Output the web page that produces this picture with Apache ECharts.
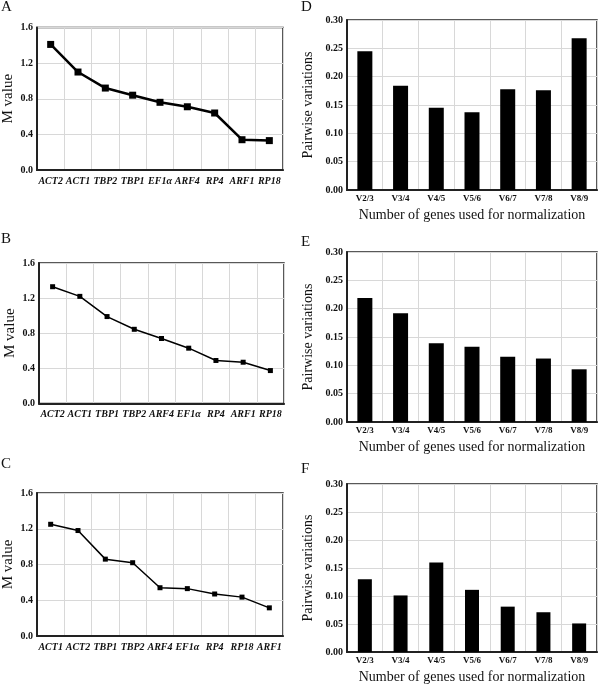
<!DOCTYPE html>
<html><head><meta charset="utf-8">
<script src="https://cdn.jsdelivr.net/npm/echarts@6/dist/echarts.min.js"></script>
<style>html,body{margin:0;padding:0;background:#fff}#c{width:600px;height:689px}</style>
</head><body><div id="c"></div>
<script>
// ---- Data ----
const catsA = ['ACT2','ACT1','TBP2','TBP1','EF1\u03b1','ARF4','RP4','ARF1','RP18'];
const valsA = [1.41, 1.10, 0.92, 0.84, 0.76, 0.71, 0.64, 0.34, 0.33];
const catsB = ['ACT2','ACT1','TBP1','TBP2','ARF4','EF1\u03b1','RP4','ARF1','RP18'];
const valsB = [1.33, 1.22, 0.99, 0.845, 0.74, 0.63, 0.49, 0.47, 0.375];
const catsC = ['ACT1','ACT2','TBP1','TBP2','ARF4','EF1\u03b1','RP4','RP18','ARF1'];
const valsC = [1.25, 1.18, 0.86, 0.82, 0.54, 0.53, 0.47, 0.435, 0.315];
const catsV = ['V2/3','V3/4','V4/5','V5/6','V6/7','V7/8','V8/9'];
const valsD = [0.245, 0.184, 0.145, 0.137, 0.178, 0.176, 0.268];
const valsE = [0.219, 0.192, 0.139, 0.133, 0.115, 0.112, 0.093];
const valsF = [0.130, 0.101, 0.160, 0.111, 0.081, 0.071, 0.051];
const mTicks = {min: 0, max: 1.6, interval: 0.4};
const pTicks = {min: 0, max: 0.30, interval: 0.05};
const letters = ['A','B','C','D','E','F'];

const FONT = 'Liberation Serif';
const chart = echarts.init(document.getElementById('c'));

const grids = [
  {left: 37, top: 27.5, width: 246, height: 142.5},
  {left: 39, top: 263, width: 245, height: 140.5},
  {left: 35, top: 493, width: 248, height: 143},
  {left: 347, top: 20, width: 250, height: 170},
  {left: 347, top: 252, width: 250, height: 170},
  {left: 347, top: 484, width: 250, height: 168}
].map(g => Object.assign({show: true, borderColor: '#222', borderWidth: 1.5, backgroundColor: '#fff'}, g));

const split = {show: true, lineStyle: {color: '#d8d8d8', width: 1}};
const xAxes = [], yAxes = [], series = [];
const lineSets = [[catsA, valsA, 7, 2.5], [catsB, valsB, 5, 1.5], [catsC, valsC, 5, 1.5]];
lineSets.forEach((s, i) => {
  xAxes.push({type: 'category', gridIndex: i, data: s[0], boundaryGap: true,
    axisLine: {lineStyle: {color: '#222', width: 2}}, axisTick: {show: false},
    splitLine: split,
    axisLabel: {fontFamily: FONT, fontWeight: 'bold', fontStyle: 'italic', fontSize: 10, color: '#111', margin: 6, interval: 0}});
  yAxes.push({type: 'value', gridIndex: i, min: mTicks.min, max: mTicks.max, interval: mTicks.interval,
    name: 'M value', nameLocation: 'middle', nameGap: 21,
    nameTextStyle: {fontFamily: FONT, fontSize: 15, color: '#111'},
    axisLine: {show: true, lineStyle: {color: '#222', width: 2}}, axisTick: {show: false},
    splitLine: split,
    axisLabel: {fontFamily: FONT, fontWeight: 'bold', fontSize: 10, color: '#111', margin: 4,
      formatter: v => v.toFixed(1)}});
  series.push({type: 'line', xAxisIndex: i, yAxisIndex: i, data: s[1],
    symbol: 'rect', symbolSize: s[2], lineStyle: {color: '#000', width: s[3]},
    itemStyle: {color: '#000'}, animation: false});
});
[[valsD, 15], [valsE, 15], [valsF, 14]].forEach((s, j) => {
  const i = j + 3;
  xAxes.push({type: 'category', gridIndex: i, data: catsV, boundaryGap: true,
    name: 'Number of genes used for normalization', nameLocation: 'middle', nameGap: 18,
    nameTextStyle: {fontFamily: FONT, fontSize: 14, color: '#111'},
    axisLine: {lineStyle: {color: '#222', width: 2}}, axisTick: {show: false},
    splitLine: split,
    axisLabel: {fontFamily: FONT, fontWeight: 'bold', fontSize: 9, color: '#111', margin: 4, interval: 0}});
  yAxes.push({type: 'value', gridIndex: i, min: pTicks.min, max: pTicks.max, interval: pTicks.interval,
    name: 'Pairwise variations', nameLocation: 'middle', nameGap: 32,
    nameTextStyle: {fontFamily: FONT, fontSize: 14, color: '#111'},
    axisLine: {show: true, lineStyle: {color: '#222', width: 2}}, axisTick: {show: false},
    splitLine: split,
    axisLabel: {fontFamily: FONT, fontWeight: 'bold', fontSize: 10, color: '#111', margin: 4,
      formatter: v => v.toFixed(2)}});
  series.push({type: 'bar', xAxisIndex: i, yAxisIndex: i, data: s[0], barWidth: s[1],
    itemStyle: {color: '#000'}, animation: false});
});

const letterPos = [[1, 8], [1, 240], [1, 465], [301, 8], [301, 243], [301, 470]];
const graphic = letters.map((t, k) => ({type: 'text', left: letterPos[k][0], top: letterPos[k][1] - 8,
  style: {text: t, font: '15px "' + FONT + '"', fill: '#111'}}));

chart.setOption({animation: false, grid: grids, xAxis: xAxes, yAxis: yAxes, series: series, graphic: graphic});
</script></body></html>
